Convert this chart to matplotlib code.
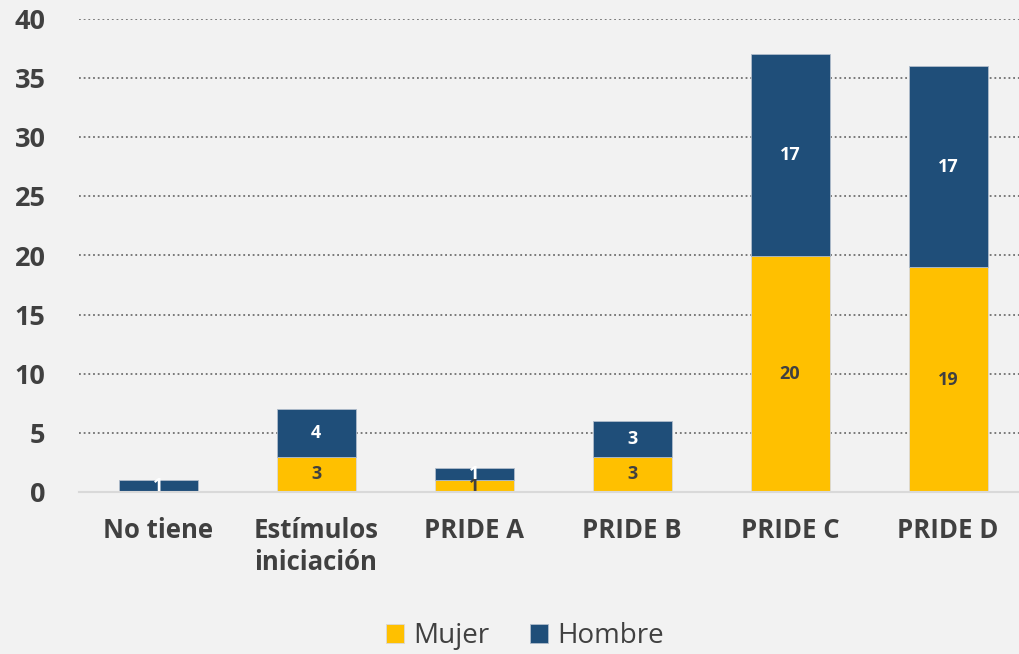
import matplotlib
matplotlib.use("Agg")
import matplotlib.pyplot as plt
import numpy as np

categories = ["No tiene", "Estímulos\niniciación", "PRIDE A", "PRIDE B", "PRIDE C", "PRIDE D"]
mujer = [0, 3, 1, 3, 20, 19]
hombre = [1, 4, 1, 3, 17, 17]
yticks = [0, 5, 10, 15, 20, 25, 30, 35, 40]

plt.rcParams['font.family'] = ['Open Sans', 'DejaVu Sans']
bg = "#F2F2F2"
c_m = "#FFC000"
c_h = "#1F4E79"
txt = "#404040"

fig = plt.figure(figsize=(10.2, 6.54), dpi=100, facecolor=bg)
ax = fig.add_axes([79/1020, 162/654, 941/1020, 473/654], facecolor=bg)

x = np.arange(len(categories))
w = 0.5
b1 = ax.bar(x, mujer, w, color=c_m, edgecolor="#d9d9d9", linewidth=0.6, label="Mujer", zorder=3)
b2 = ax.bar(x, hombre, w, bottom=mujer, color=c_h, edgecolor="#b0bccb", linewidth=0.6, label="Hombre", zorder=3)

for i in range(len(x)):
    if mujer[i] > 0:
        ax.text(x[i], mujer[i] / 2, str(mujer[i]), ha="center", va="center",
                color=txt, fontsize=13, fontweight="bold", zorder=4)
    if hombre[i] > 0:
        ax.text(x[i], mujer[i] + hombre[i] / 2, str(hombre[i]), ha="center", va="center",
                color="white", fontsize=13, fontweight="bold", zorder=4)

ax.set_ylim(0, 40)
ax.set_xlim(-0.5, 5.455)
ax.set_yticks(yticks)
ax.set_yticklabels([str(v) for v in yticks], fontsize=19.5, fontweight="bold", color=txt)
ax.set_xticks(x)
ax.set_xticklabels(categories, fontsize=18.5, fontweight="bold", color=txt, linespacing=1.25)
ax.tick_params(axis="y", length=0, pad=24)
ax.tick_params(axis="x", length=0, pad=18)
for t in ax.get_yticklabels():
    t.set_ha("right")

for v in yticks[1:]:
    ax.axhline(v, color="#707070", linestyle=(0, (1, 1.6)), linewidth=1.3, zorder=1)
for s in ["top", "right", "left"]:
    ax.spines[s].set_visible(False)
ax.spines["bottom"].set_color("#d9d9d9")
ax.spines["bottom"].set_linewidth(1.5)
ax.spines["bottom"].set_zorder(5)

leg = fig.legend(handles=[b1, b2], labels=["Mujer", "Hombre"], loc="center",
                 bbox_to_anchor=(525/1020, 1 - 636/654), ncol=2, frameon=False,
                 fontsize=20, handlelength=0.65, handleheight=0.65, handletextpad=0.35,
                 columnspacing=1.45)
for t in leg.get_texts():
    t.set_color(txt)

fig.savefig("out.png", dpi=100, facecolor=bg)
